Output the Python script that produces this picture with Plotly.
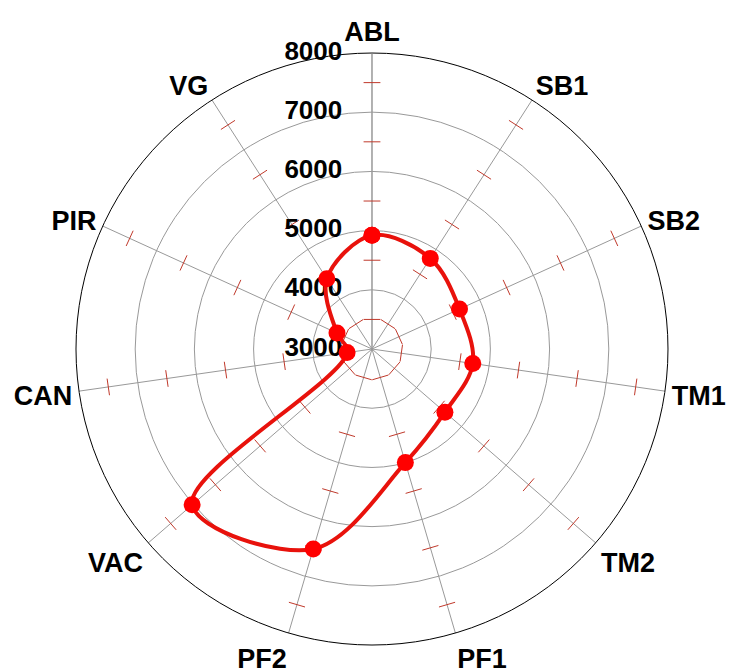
import plotly.graph_objects as go

categories = ["ABL", "SB1", "SB2", "TM1", "TM2", "PF1", "PF2", "VAC", "CAN", "PIR", "VG"]
values = [4920, 4820, 4625, 4720, 4630, 5000, 6520, 7020, 3425, 3650, 4410]
radial_ticks = [3000, 4000, 5000, 6000, 7000, 8000]
radial_tick_labels = ["3000", "4000", "5000", "6000", "7000", "8000"]
minor_ticks = [3500, 4500, 5500, 6500, 7500]

font = dict(family="Liberation Sans, Arial", size=26, color="black", weight="bold")
afont = dict(family="Liberation Sans, Arial", size=27, color="black", weight="bold")

fig = go.Figure()

# red minor tick marks on every spoke
n = len(categories)
tick_r, tick_t, tick_a = [], [], []
for i, c in enumerate(categories):
    for v in minor_ticks:
        tick_r.append(v)
        tick_t.append(c)
        tick_a.append(i * 360.0 / n)
fig.add_trace(go.Scatterpolar(
    r=tick_r, theta=tick_t, mode="markers",
    marker=dict(symbol="line-ew", size=12, angle=tick_a,
                line=dict(color="#c0392b", width=1)),
    hoverinfo="skip", showlegend=False,
))

# radial tick labels, placed left of the ABL spoke
fig.add_trace(go.Scatterpolar(
    r=radial_ticks, theta=[categories[0]] * len(radial_ticks),
    mode="markers+text", text=radial_tick_labels, textposition="middle left",
    textfont=font,
    marker=dict(size=46, color="rgba(0,0,0,0)"),
    hoverinfo="skip", showlegend=False,
))

fig.add_trace(go.Scatterpolar(
    r=values + values[:1], theta=categories + categories[:1],
    mode="lines+markers",
    line=dict(color="#e8120c", width=4, shape="spline", smoothing=1.0),
    marker=dict(color="#ff0000", size=17, line=dict(width=0)),
    showlegend=False,
))

fig.update_layout(
    width=734, height=669,
    margin=dict(l=0, r=0, t=0, b=0),
    paper_bgcolor="white",
    showlegend=False,
    polar=dict(
        domain=dict(x=[0.0926, 0.8992], y=[0.0478, 0.9327]),
        bgcolor="white",
        radialaxis=dict(
            range=[3000, 8000], tickvals=radial_ticks,
            angle=90, showticklabels=False,
            showline=True, linecolor="#999999", linewidth=1,
            gridcolor="#999999", gridwidth=1,
            ticks="", layer="below traces",
        ),
        angularaxis=dict(
            direction="clockwise", rotation=90,
            showline=True, linecolor="black", linewidth=1,
            gridcolor="#999999", gridwidth=1,
            ticks="outside", ticklen=1, tickcolor="rgba(0,0,0,0)",
            layer="below traces",
            tickfont=afont,
        ),
    ),
)

fig.write_html("out.html")
